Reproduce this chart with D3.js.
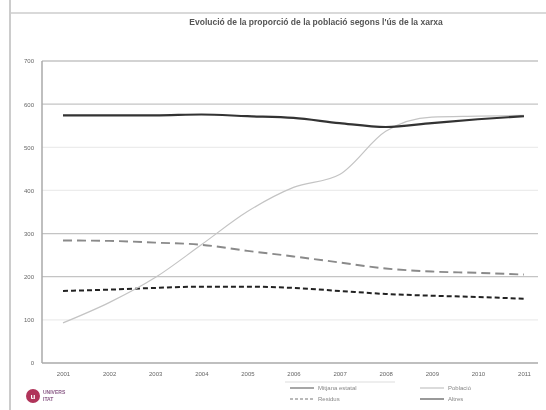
<!DOCTYPE html>
<html>
<head>
<meta charset="utf-8">
<script src="https://cdn.jsdelivr.net/npm/d3@7"></script>
<style>
  body { margin: 0; background: #fff; }
  svg { font-family: "Liberation Sans", Arial, sans-serif; filter: blur(0.45px); }
</style>
</head>
<body>
<div id="chart"></div>
<script>
// data
const years = ['2001', '2002', '2003', '2004', '2005', '2006', '2007', '2008', '2009', '2010', '2011'];
const yTicks = [0, 100, 200, 300, 400, 500, 600, 700];
const mitjana = [574, 574, 574, 576, 572, 568, 556, 547, 556, 565, 572];
const poblacio = [93, 140, 198, 274, 351, 407, 437, 537, 570, 572, 574];
const residus = [284, 283, 279, 274, 260, 247, 233, 219, 212, 209, 205];
const altres = [167, 170, 174, 177, 177, 174, 167, 160, 156, 153, 149];
const seriesNames = ['Mitjana estatal', 'Població', 'Residus', 'Altres'];

const width = 546, height = 410;
const margin = {top: 61, right: 8, bottom: 47, left: 42};

const svg = d3.select('#chart').append('svg')
  .attr('width', width)
  .attr('height', height);

// outer frame of the scanned sheet
svg.append('line').attr('x1', 10).attr('x2', 10).attr('y1', 0).attr('y2', height)
  .attr('stroke', '#bbb').attr('stroke-width', 1.5);
svg.append('line').attr('x1', 10).attr('x2', width).attr('y1', 13).attr('y2', 13)
  .attr('stroke', '#ccc').attr('stroke-width', 1.5);

svg.append('text')
  .attr('x', 316).attr('y', 25)
  .attr('text-anchor', 'middle')
  .attr('font-size', 8.5).attr('font-weight', 'bold').attr('fill', '#555')
  .text("Evolució de la proporció de la població segons l'ús de la xarxa");

const x = d3.scalePoint()
  .domain(years)
  .range([63, 524]);

const y = d3.scaleLinear()
  .domain([0, 700])
  .range([height - margin.bottom, margin.top]);

// gridlines (some came out darker in the scan)
svg.append('g')
  .selectAll('line')
  .data(yTicks.slice(1))
  .join('line')
  .attr('x1', margin.left).attr('x2', width - margin.right)
  .attr('y1', d => y(d)).attr('y2', d => y(d))
  .attr('stroke', d => (d === 600 || d === 200 || d === 300 || d === 700) ? '#c4c4c4' : '#ececec')
  .attr('stroke-width', 1.3);

// plot borders
svg.append('line').attr('x1', margin.left).attr('x2', margin.left)
  .attr('y1', margin.top).attr('y2', y(0))
  .attr('stroke', '#aaa').attr('stroke-width', 1.5);
svg.append('line').attr('x1', margin.left).attr('x2', width - margin.right)
  .attr('y1', y(0)).attr('y2', y(0))
  .attr('stroke', '#aaa').attr('stroke-width', 1.5);

// y axis labels
const yAxis = svg.append('g')
  .attr('transform', 'translate(' + margin.left + ',0)')
  .call(d3.axisLeft(y).tickValues(yTicks).tickSize(0).tickPadding(8));
yAxis.select('.domain').remove();
yAxis.selectAll('text').attr('font-size', 6).attr('fill', '#666');

// x axis labels
const xAxis = svg.append('g')
  .attr('transform', 'translate(0,' + y(0) + ')')
  .call(d3.axisBottom(x).tickSize(0).tickPadding(9));
xAxis.select('.domain').remove();
xAxis.selectAll('text').attr('font-size', 6).attr('fill', '#666');

const line = d3.line()
  .x((d, i) => x(years[i]))
  .y(d => y(d))
  .curve(d3.curveMonotoneX);

const styles = [
  {data: residus, color: '#8a8a8a', width: 1.9, dash: '9,5'},
  {data: altres, color: '#222', width: 2, dash: '5,3'},
  {data: poblacio, color: '#c4c4c4', width: 1.2, dash: null},
  {data: mitjana, color: '#333', width: 2.2, dash: null}
];

svg.append('g')
  .selectAll('path')
  .data(styles)
  .join('path')
  .attr('d', d => line(d.data))
  .attr('fill', 'none')
  .attr('stroke', d => d.color)
  .attr('stroke-width', d => d.width)
  .attr('stroke-dasharray', d => d.dash);

// legend
const legendItems = [
  {name: seriesNames[0], color: '#8a8a8a', width: 1.5, dash: null, x: 290, y: 388},
  {name: seriesNames[1], color: '#c4c4c4', width: 1.2, dash: null, x: 420, y: 388},
  {name: seriesNames[2], color: '#777', width: 1.2, dash: '3,2', x: 290, y: 399},
  {name: seriesNames[3], color: '#555', width: 1.2, dash: null, x: 420, y: 399}
];
svg.append('line').attr('x1', 285).attr('x2', 395).attr('y1', 382).attr('y2', 382)
  .attr('stroke', '#ddd');
const lg = svg.append('g')
  .selectAll('g')
  .data(legendItems)
  .join('g')
  .attr('transform', d => 'translate(' + d.x + ',' + d.y + ')');
lg.append('line')
  .attr('x1', 0).attr('x2', 24)
  .attr('stroke', d => d.color)
  .attr('stroke-width', d => d.width)
  .attr('stroke-dasharray', d => d.dash);
lg.append('text')
  .attr('x', 28).attr('y', 2)
  .attr('font-size', 6).attr('fill', '#888')
  .text(d => d.name);

// logo
svg.append('circle').attr('cx', 33).attr('cy', 396).attr('r', 7)
  .attr('fill', '#b0345a');
svg.append('text').attr('x', 33).attr('y', 399).attr('text-anchor', 'middle')
  .attr('font-size', 8).attr('font-weight', 'bold').attr('fill', '#fff').text('u');
svg.append('text').attr('x', 43).attr('y', 394)
  .attr('font-size', 5).attr('font-weight', 'bold').attr('fill', '#8a5a86').text('UNIVERS');
svg.append('text').attr('x', 43).attr('y', 401)
  .attr('font-size', 5).attr('font-weight', 'bold').attr('fill', '#8a5a86').text('ITAT');
</script>
</body>
</html>
